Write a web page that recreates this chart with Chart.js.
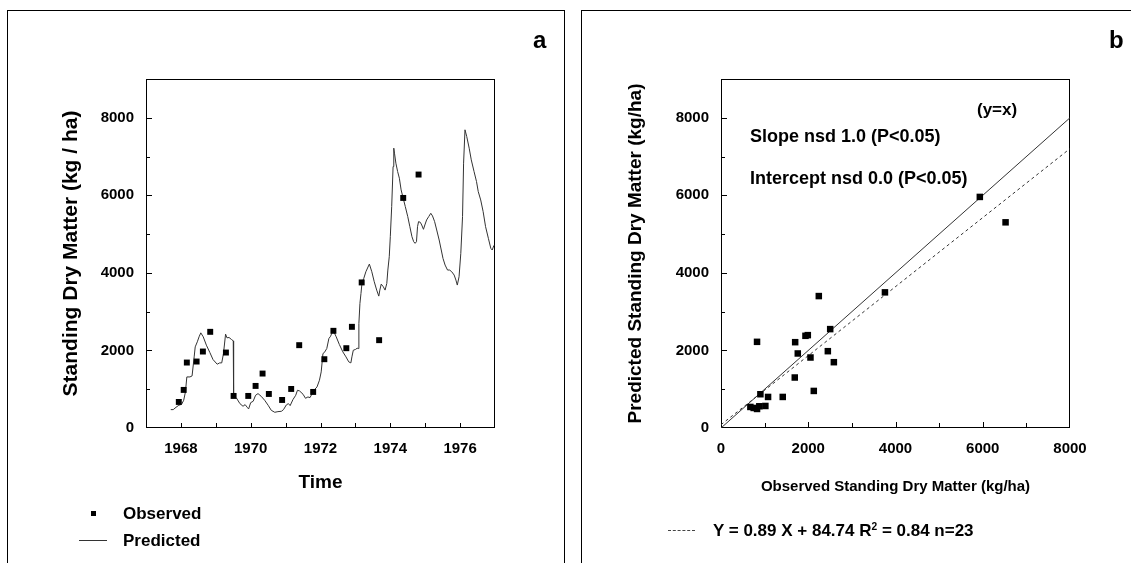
<!DOCTYPE html>
<html><head><meta charset="utf-8">
<script src="https://cdn.jsdelivr.net/npm/chart.js@4.4.0/dist/chart.umd.min.js"></script>
<style>
html,body{margin:0;padding:0;background:#fff;width:1131px;height:563px;overflow:hidden;font-family:'Liberation Sans',Arial,sans-serif;font-weight:bold;color:#000}
.panel{position:absolute;border-top:1px solid #000;border-left:1px solid #000;box-sizing:border-box}
#pa{left:7px;top:10px;width:558px;height:560px;border-right:1px solid #000}
#pb{left:581px;top:10px;width:600px;height:560px}
canvas{position:absolute;top:0}
#ca{left:0}
#cb{left:575px}
.t{position:absolute;white-space:nowrap;line-height:1}
sup{font-size:0.6em;vertical-align:0.55em;line-height:0}
</style></head>
<body>
<div class="panel" id="pa"></div>
<div class="panel" id="pb"></div>
<canvas id="ca" width="570" height="563"></canvas>
<canvas id="cb" width="556" height="563"></canvas>

<div class="t" style="left:533px;top:28px;font-size:24px">a</div>
<div class="t" style="left:1109px;top:28px;font-size:24px">b</div>

<div style="position:absolute;left:91px;top:511px;width:5px;height:5px;background:#000"></div>
<div class="t" style="left:123px;top:505px;font-size:17px">Observed</div>
<div style="position:absolute;left:79px;top:540px;width:28px;height:1px;background:#333"></div>
<div class="t" style="left:123px;top:532px;font-size:17px">Predicted</div>

<div class="t" style="left:977px;top:101px;font-size:17px">(y=x)</div>
<div class="t" style="left:750px;top:127px;font-size:18px">Slope nsd 1.0 (P&lt;0.05)</div>
<div class="t" style="left:750px;top:169px;font-size:18px">Intercept nsd 0.0 (P&lt;0.05)</div>
<div style="position:absolute;left:668px;top:530px;width:27px;height:0;border-top:1px dashed #444"></div>
<div class="t" style="left:713px;top:522px;font-size:17px">Y = 0.89 X + 84.74 R<sup>2</sup> = 0.84 n=23</div>

<script>
// ---------- Panel a data ----------
const obsYears = [1967.94,1968.08,1968.17,1968.45,1968.63,1968.84,1969.29,1969.51,1969.93,1970.14,1970.34,1970.52,1970.90,1971.16,1971.39,1971.79,1972.11,1972.37,1972.74,1972.90,1973.18,1973.68,1974.37,1974.81];
const obsValues = [672,982,1688,1714,1972,2480,1946,827,827,1085,1404,878,723,1007,2136,930,1774,2506,2058,2609,3754,2265,5933,6536];

const predYears = [1967.71,1967.78,1967.86,1967.94,1968.02,1968.08,1968.13,1968.17,1968.26,1968.32,
1968.38,1968.41,1968.47,1968.52,1968.57,1968.64,1968.73,1968.83,1968.92,1969.04,
1969.11,1969.17,1969.22,1969.28,1969.32,1969.38,1969.45,1969.50,1969.51,1969.59,
1969.69,1969.78,1969.84,1969.90,1969.94,1970.00,1970.07,1970.14,1970.21,1970.30,
1970.40,1970.50,1970.59,1970.69,1970.78,1970.88,1970.94,1971.02,1971.08,1971.13,
1971.21,1971.29,1971.34,1971.40,1971.50,1971.57,1971.64,1971.70,1971.76,1971.83,
1971.90,1971.97,1972.02,1972.07,1972.11,1972.18,1972.24,1972.29,1972.32,1972.37,
1972.45,1972.54,1972.64,1972.73,1972.81,1972.87,1972.90,1972.94,1973.00,1973.05,
1973.08,1973.10,1973.13,1973.16,1973.19,1973.24,1973.30,1973.40,1973.47,1973.54,
1973.61,1973.67,1973.70,1973.74,1973.80,1973.85,1973.90,1973.93,1973.97,1974.00,
1974.04,1974.08,1974.10,1974.12,1974.16,1974.21,1974.26,1974.31,1974.37,1974.43,
1974.50,1974.56,1974.62,1974.67,1974.71,1974.75,1974.78,1974.81,1974.86,1974.90,
1974.95,1974.99,1975.04,1975.10,1975.16,1975.21,1975.27,1975.33,1975.40,1975.46,
1975.51,1975.57,1975.64,1975.70,1975.76,1975.83,1975.88,1975.92,1975.97,1976.02,
1976.07,1976.10,1976.14,1976.19,1976.26,1976.32,1976.40,1976.47,1976.52,1976.59,
1976.66,1976.73,1976.81,1976.88,1976.92,1976.97];
const predValues = [474,474,534,586,611,715,930,1317,1317,1343,
1834,2092,2222,2351,2454,2351,2136,1946,1765,1645,
1679,1679,1920,2420,2325,2334,2282,2247,827,775,
629,560,603,534,491,654,689,844,887,818,
715,586,456,405,422,431,474,594,629,577,
732,844,973,956,870,766,801,784,887,990,
1059,1231,1447,1920,1946,2049,2308,2368,2437,2506,
2351,2153,1963,1834,1705,1679,1834,2006,2024,2058,
2049,2695,3212,3470,3746,3858,4030,4228,4030,3772,
3556,3401,3556,3711,3642,3556,3729,4073,4417,4934,
5709,6742,7216,7087,6829,6613,6441,6140,5924,5709,
5451,5192,4934,4805,4762,4805,5192,5322,5304,5235,
5124,5235,5365,5451,5537,5468,5322,5106,4848,4590,
4374,4202,4073,4073,4030,3944,3815,3686,3901,4504,
5451,6829,7690,7517,7216,6915,6613,6355,6097,5881,
5580,5192,4891,4633,4590,4710];

const aXLabelTicks = [1968,1970,1972,1974,1976];
const aXMarkTicks = [1968,1969,1970,1971,1972,1973,1974,1975,1976];
const yLabelTicks = [0,2000,4000,6000,8000];
const yMajorMarks = [2000,4000,6000,8000];
const yMinorMarks = [1000,3000,5000,7000];

// ---------- Panel b data ----------
const bObserved = [5933,6523,3758,2242,2503,1936,1990,1700,826,1760,2051,2449,2587,1691,2127,1415,903,1079,1017,673,749,826,878];
const bPredicted = [5959,5304,3498,3402,2550,2377,2395,2213,2222,1922,1818,1981,1697,1302,956,801,871,801,568,543,517,491,560];
const oneToOneX = [0,8000];
const oneToOneY = [0,8000];
const regX = [0,8000];
const regY = [85,7205];
const bXLabelTicks = [0,2000,4000,6000,8000];
const bXMajorMarks = [2000,4000,6000];
const bXMinorMarks = [1000,3000,5000,7000];

const FONT = "'Liberation Sans', Arial, sans-serif";
Chart.defaults.font.family = FONT;
Chart.defaults.font.weight = 'bold';
Chart.defaults.color = '#000';

const boxTicks = {
  id: 'boxTicks',
  beforeDatasetsDraw(chart, args, opts) {
    const {ctx, chartArea: {left, right, top, bottom}, scales: {x, y}} = chart;
    ctx.save();
    ctx.strokeStyle = '#000';
    ctx.lineWidth = 1;
    ctx.strokeRect(Math.round(left) + 0.5, Math.round(top) + 0.5, Math.round(right - left) - 1, Math.round(bottom - top) - 1);
    ctx.beginPath();
    const xm = (vals, len) => vals.forEach(v => {
      const px = Math.round(x.getPixelForValue(v)) + 0.5;
      ctx.moveTo(px, bottom - 1); ctx.lineTo(px, bottom - 1 - len);
    });
    const ym = (vals, len) => vals.forEach(v => {
      const py = Math.round(y.getPixelForValue(v)) + 0.5;
      ctx.moveTo(left + 1, py); ctx.lineTo(left + 1 + len, py);
    });
    opts.x.forEach(g => xm(g.v, g.len));
    opts.y.forEach(g => ym(g.v, g.len));
    ctx.stroke();
    ctx.restore();
  }
};

function fixedTicks(arr) { return s => { s.ticks = arr.map(v => ({value: v})); }; }

const tickFont = {size: 15, weight: 'bold', family: FONT};

new Chart(document.getElementById('ca'), {
  type: 'scatter',
  data: {datasets: [
    {label: 'Observed', data: obsYears.map((x, i) => ({x, y: obsValues[i]})),
     pointStyle: 'rect', pointRadius: 4.2, backgroundColor: '#000', borderWidth: 0, order: 0},
    {label: 'Predicted', data: predYears.map((x, i) => ({x, y: predValues[i]})),
     showLine: true, borderColor: '#333', borderWidth: 1, pointRadius: 0, tension: 0, fill: false, order: 1}
  ]},
  options: {
    responsive: false, animation: false, devicePixelRatio: 1,
    layout: {padding: {top: 79, right: 75, left: 0, bottom: 0}},
    plugins: {legend: {display: false}, tooltip: {enabled: false},
      boxTicks: {x: [{v: aXMarkTicks, len: 4}], y: [{v: yMajorMarks, len: 5}, {v: yMinorMarks, len: 3}]}},
    scales: {
      x: {type: 'linear', min: 1967, max: 1977,
        afterFit(s) { s.height = 135; },
        afterBuildTicks: fixedTicks(aXLabelTicks),
        ticks: {padding: 12, font: tickFont, color: '#000', callback: v => String(v), maxRotation: 0, autoSkip: false},
        grid: {display: false, drawTicks: false}, border: {display: false},
        title: {display: true, text: 'Time', font: {size: 19, weight: 'bold', family: FONT}, color: '#000', padding: {top: 0, bottom: 69}}},
      y: {type: 'linear', min: 0, max: 9000,
        afterFit(s) { s.width = 146; },
        afterBuildTicks: fixedTicks(yLabelTicks),
        ticks: {padding: 12, font: tickFont, color: '#000', callback: v => String(v), autoSkip: false},
        grid: {display: false, drawTicks: false}, border: {display: false},
        title: {display: true, text: 'Standing Dry Matter (kg / ha)', font: {size: 21, weight: 'bold', family: FONT}, color: '#000', padding: {top: 59, bottom: 0}}}
    }
  },
  plugins: [boxTicks]
});

new Chart(document.getElementById('cb'), {
  type: 'scatter',
  data: {datasets: [
    {label: 'Points', data: bObserved.map((x, i) => ({x, y: bPredicted[i]})),
     pointStyle: 'rect', pointRadius: 4.6, backgroundColor: '#000', borderWidth: 0, order: 0},
    {label: 'y=x', data: oneToOneX.map((x, i) => ({x, y: oneToOneY[i]})),
     showLine: true, borderColor: '#333', borderWidth: 1, pointRadius: 0, order: 1},
    {label: 'Regression', data: regX.map((x, i) => ({x, y: regY[i]})),
     showLine: true, borderColor: '#333', borderWidth: 1, borderDash: [3, 3], pointRadius: 0, order: 2}
  ]},
  options: {
    responsive: false, animation: false, devicePixelRatio: 1,
    layout: {padding: {top: 79, right: 61, left: 0, bottom: 0}},
    plugins: {legend: {display: false}, tooltip: {enabled: false},
      boxTicks: {x: [{v: bXMajorMarks, len: 5}, {v: bXMinorMarks, len: 4}], y: [{v: yMajorMarks, len: 5}, {v: yMinorMarks, len: 3}]}},
    scales: {
      x: {type: 'linear', min: 0, max: 8000,
        afterFit(s) { s.height = 135; },
        afterBuildTicks: fixedTicks(bXLabelTicks),
        ticks: {padding: 12, font: tickFont, color: '#000', callback: v => String(v), maxRotation: 0, autoSkip: false},
        grid: {display: false, drawTicks: false}, border: {display: false},
        title: {display: true, text: 'Observed Standing Dry Matter (kg/ha)', font: {size: 15, weight: 'bold', family: FONT}, color: '#000', padding: {top: 0, bottom: 67}}},
      y: {type: 'linear', min: 0, max: 9000,
        afterFit(s) { s.width = 146; },
        afterBuildTicks: fixedTicks(yLabelTicks),
        ticks: {padding: 12, font: tickFont, color: '#000', callback: v => String(v), autoSkip: false},
        grid: {display: false, drawTicks: false}, border: {display: false},
        title: {display: true, text: 'Predicted Standing Dry Matter (kg/ha)', font: {size: 19, weight: 'bold', family: FONT}, color: '#000', padding: {top: 49, bottom: 0}}}
    }
  },
  plugins: [boxTicks]
});
</script>
</body></html>
